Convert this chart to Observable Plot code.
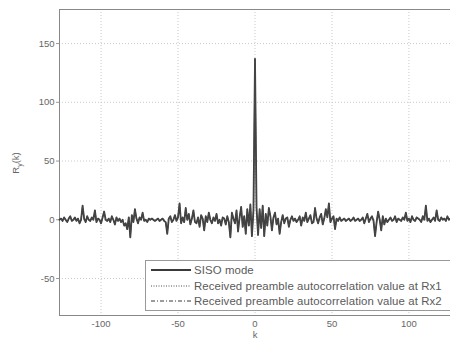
<!DOCTYPE html>
<html>
<head>
<meta charset="utf-8">
<script src="https://cdn.jsdelivr.net/npm/d3@7"></script>
<script src="https://cdn.jsdelivr.net/npm/@observablehq/plot@0.6"></script>
<style>
  html, body { margin: 0; padding: 0; background: #fff; overflow: hidden; }
  #wrap { position: relative; width: 450px; height: 341px; font-family: "Liberation Sans", Arial, sans-serif; }
  #legend { position: absolute; left: 145px; top: 260px; width: 320px; height: 51px;
            border: 1px solid #999; background: #fff; box-sizing: border-box; }
  .row { position: absolute; left: 4px; height: 12px; display: flex; align-items: center;
         font-size: 11.4px; color: #5a5a5a; white-space: nowrap; letter-spacing: 0.1px; }
  .row svg { margin-right: 2px; }
</style>
</head>
<body>
<div id="wrap"></div>
<script>
// lags k from -127 to 127
const lagStart = -127;
const sisoValues = [
  // -127..-118
  0,1,-1,2,0,-2,1,3,-1,0,
  // -117..-108
  2,-1,1,-3,0,12,1,-2,3,0,
  // -107..-98
  -1,2,0,8,-2,1,0,-3,2,7,
  // -97..-88
  0,-1,1,-2,3,0,-4,2,-1,1,
  // -87..-78
  -2,0,-5,-3,-8,2,-15,4,-2,9,
  // -77..-68
  1,-3,2,0,6,-1,0,-2,1,0,
  // -67..-58
  1,0,-1,0,1,-1,0,1,-1,-2,
  // -57..-48
  -12,1,3,-2,0,4,-1,2,14,-3,
  // -47..-38
  2,-2,10,0,5,-4,1,8,-2,-3,
  // -37..-28
  2,-6,4,1,-9,3,-2,6,0,-3,
  // -27..-18
  2,-1,5,-3,0,-5,2,1,-4,3,
  // -17..-8
  -2,-15,6,1,-3,8,-10,2,11,-6,
  // -7..-1
  3,-12,9,-5,13,-14,8,
  // 0
  137,
  // 1..7
  10,-13,9,-7,12,-14,5,
  // 8..17
  -5,10,3,-9,2,6,-4,1,-12,-2,
  // 18..27
  4,-3,1,2,-6,0,3,-1,1,-2,
  // 28..37
  0,3,-5,2,-1,6,-2,1,4,-3,
  // 38..47
  -2,10,1,-3,2,5,-4,1,9,2,
  // 48..57
  14,-2,1,3,-8,1,-1,2,-1,0,
  // 58..67
  1,-1,0,1,-1,0,2,-1,0,1,
  // 68..77
  -1,0,2,-3,1,5,-2,1,3,-1,
  // 78..87
  -14,-2,7,0,-9,3,-4,1,-2,0,
  // 88..97
  2,-1,0,3,-2,1,0,-1,2,0,
  // 98..107
  6,-1,1,-2,3,0,-1,2,1,0,
  // 108..117
  -2,3,0,12,-1,1,-2,0,2,-1,
  // 118..127
  8,0,-1,2,0,1,-1,3,0,1
];
const xTicks = [-100, -50, 0, 50, 100];
const yTicks = [-50, 0, 50, 100, 150];
const legendLabels = [
  "SISO mode",
  "Received preamble autocorrelation value at Rx1",
  "Received preamble autocorrelation value at Rx2"
];

const data = sisoValues.map((v, i) => ({k: lagStart + i, r: v}));
const fmt = d => String(d);

const chart = Plot.plot({
  width: 450,
  height: 341,
  marginLeft: 59,
  marginRight: 0,
  marginTop: 9,
  marginBottom: 26,
  style: {fontFamily: "Liberation Sans, Arial, sans-serif", fontSize: "9.5px", color: "#555", background: "#fff"},
  x: {domain: [-127, 127], ticks: xTicks},
  y: {domain: [-81.5, 179], ticks: yTicks},
  marks: [
    Plot.gridX(xTicks, {stroke: "#c8c8c8", strokeOpacity: 1, strokeDasharray: "1,2"}),
    Plot.gridY(yTicks, {stroke: "#c8c8c8", strokeOpacity: 1, strokeDasharray: "1,2"}),
    Plot.frame({stroke: "#888"}),
    Plot.axisX(xTicks, {tickSize: 0, tickPadding: 5, label: null, fill: "#666", tickFormat: fmt}),
    Plot.axisY(yTicks, {tickSize: 3, tickPadding: 2, label: null, fill: "#666", stroke: "#999", tickFormat: fmt}),
    Plot.lineY(data, {x: "k", y: "r", stroke: "#3a3a3a", strokeWidth: 1.8}),
    Plot.lineY(data, {x: "k", y: "r", stroke: "#555", strokeWidth: 0.6, strokeDasharray: "1,1.5"}),
    Plot.lineY(data, {x: "k", y: "r", stroke: "#444", strokeWidth: 0.6, strokeDasharray: "4,2,1,2"})
  ]
});

const wrap = document.getElementById("wrap");
wrap.appendChild(chart);

// axis titles
const svg = d3.select(chart);
svg.append("text")
  .attr("x", 255).attr("y", 338)
  .attr("text-anchor", "middle")
  .attr("fill", "#666").attr("font-size", 9.5)
  .text("k");
const yl = svg.append("text")
  .attr("transform", "translate(19,163) rotate(-90)")
  .attr("text-anchor", "middle")
  .attr("fill", "#666").attr("font-size", 9.5);
yl.append("tspan").text("R");
yl.append("tspan").attr("font-size", 7).attr("dy", 2.5).text("y");
yl.append("tspan").attr("dy", -2.5).text("(k)");

// legend
const legend = document.createElement("div");
legend.id = "legend";
const dashes = ["", "1,1.5", "4,2,1,2"];
const widths = [1.8, 0.9, 1.1];
legendLabels.forEach((lab, i) => {
  const row = document.createElement("div");
  row.className = "row";
  row.style.top = (3 + i * 15.5) + "px";
  const s = d3.create("svg").attr("width", 42).attr("height", 8);
  s.append("line").attr("x1", 1).attr("x2", 41).attr("y1", 4).attr("y2", 4)
    .attr("stroke", "#3a3a3a").attr("stroke-width", widths[i])
    .attr("stroke-dasharray", dashes[i] || null);
  row.appendChild(s.node());
  const t = document.createElement("span");
  t.textContent = lab;
  row.appendChild(t);
  legend.appendChild(row);
});
wrap.appendChild(legend);
</script>
</body>
</html>
